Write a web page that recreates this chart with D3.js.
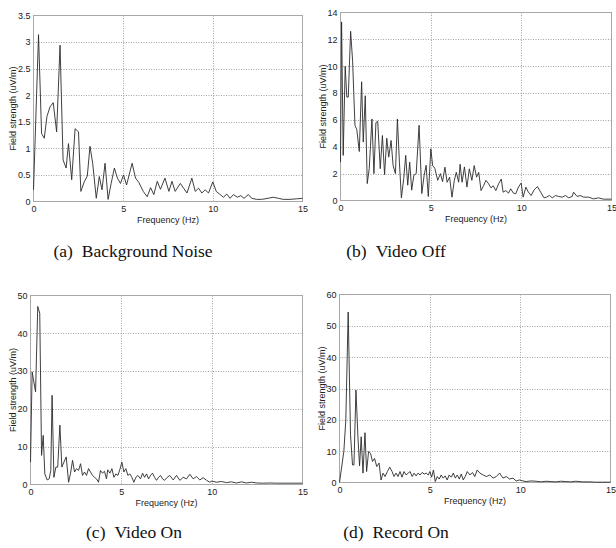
<!DOCTYPE html>
<html>
<head>
<meta charset="utf-8">
<script src="https://cdn.jsdelivr.net/npm/d3@7"></script>
<style>
  html, body { margin: 0; padding: 0; background: #fff; }
  svg { display: block; }
</style>
</head>
<body>
<svg id="chart" width="616" height="548"></svg>
<script>
// ---------- DATA ----------
const xTicks = [0, 5, 10, 15];
const xLabel = "Frequency (Hz)";
const yLabel = "Field strength (uV/m)";

// (a) Background Noise
const freqA = [0,0.28,0.45,0.6,0.75,0.92,1.1,1.29,1.48,1.65,1.82,1.95,2.13,2.32,2.51,2.64,2.83,3.0,3.15,3.3,3.5,3.67,3.82,3.99,4.16,4.33,4.51,4.68,4.85,5.02,5.19,5.5,5.69,5.87,6.12,6.34,6.53,6.71,6.9,7.08,7.33,7.55,7.72,7.9,8.19,8.37,8.56,8.83,9.02,9.2,9.39,9.57,9.76,10.0,10.19,10.41,10.59,10.78,10.96,11.15,11.37,11.56,11.74,11.98,12.17,12.44,12.72,12.91,13.37,13.65,13.93,14.3,14.67,15.0];
const valA  = [0.22,3.14,1.28,1.19,1.6,1.78,1.86,1.31,2.94,0.78,0.63,1.09,0.41,1.37,1.31,0.19,0.37,0.48,1.04,0.72,0.06,0.47,0.22,0.72,0.04,0.34,0.63,0.44,0.34,0.5,0.31,0.72,0.44,0.36,0.19,0.09,0.26,0.13,0.38,0.23,0.44,0.19,0.38,0.19,0.34,0.25,0.16,0.44,0.19,0.25,0.16,0.22,0.16,0.37,0.19,0.13,0.08,0.14,0.06,0.13,0.08,0.11,0.06,0.13,0.06,0.04,0.04,0.05,0.08,0.06,0.04,0.04,0.05,0.06];
const yTicksA = [0, 0.5, 1, 1.5, 2, 2.5, 3, 3.5];

// (b) Video Off
const freqB = [0,0.06,0.15,0.26,0.35,0.43,0.56,0.67,0.8,0.9,1.04,1.17,1.26,1.37,1.48,1.59,1.74,1.85,1.96,2.06,2.2,2.32,2.44,2.56,2.67,2.8,2.91,3.04,3.15,3.26,3.37,3.5,3.61,3.72,3.83,3.94,4.06,4.19,4.35,4.5,4.63,4.74,4.86,5.0,5.1,5.22,5.38,5.53,5.65,5.78,5.9,6.04,6.17,6.3,6.41,6.54,6.62,6.73,6.86,7.0,7.13,7.27,7.4,7.53,7.65,7.78,7.92,8.05,8.2,8.33,8.45,8.6,8.75,8.9,9.0,9.15,9.3,9.42,9.57,9.7,9.85,10.0,10.11,10.26,10.4,10.55,10.72,10.9,11.08,11.26,11.4,11.57,11.72,11.9,12.08,12.27,12.45,12.63,12.82,12.9,13.1,13.27,13.45,13.73,14.0,14.28,14.55,15.0];
const valB  = [2.86,13.3,3.36,10.0,7.7,7.7,12.6,10.4,5.6,5.3,3.65,8.84,4.35,7.8,1.26,2.37,6.07,2.0,5.8,5.9,2.37,4.84,1.93,4.64,3.23,4.47,2.62,2.0,6.07,2.86,0.2,1.63,3.36,1.14,2.86,0.77,1.88,2.0,5.6,0.52,1.88,2.62,0.3,3.85,2.6,2.4,1.5,2.0,1.4,2.48,1.36,1.74,0.25,1.5,2.1,1.36,2.7,1.36,2.5,1.0,2.36,1.5,2.6,1.74,2.1,0.74,1.1,1.5,1.24,0.94,1.1,0.74,1.24,1.6,0.62,0.74,0.55,0.87,0.55,0.5,1.0,1.3,0.25,1.0,0.62,0.37,0.8,1.04,0.62,0.2,0.25,0.37,0.2,0.37,0.3,0.25,0.37,0.2,0.3,0.62,0.3,0.37,0.25,0.25,0.12,0.2,0.1,0.1];
const yTicksB = [0, 2, 4, 6, 8, 10, 12, 14];

// (c) Video On
const freqC = [0,0.09,0.28,0.4,0.51,0.61,0.7,0.79,0.92,1.03,1.12,1.19,1.29,1.4,1.5,1.62,1.73,1.84,1.97,2.1,2.21,2.32,2.43,2.54,2.65,2.76,2.87,2.98,3.09,3.2,3.31,3.42,3.53,3.64,3.75,3.86,3.97,4.08,4.19,4.26,4.38,4.49,4.6,4.71,4.82,4.93,5.04,5.15,5.26,5.37,5.48,5.59,5.7,5.81,5.92,6.07,6.18,6.29,6.4,6.51,6.62,6.73,6.84,6.95,7.06,7.17,7.28,7.39,7.54,7.68,7.87,8.05,8.24,8.42,8.6,8.79,8.97,9.15,9.34,9.52,9.71,9.89,10.0,10.26,10.53,10.81,11.08,11.36,11.64,11.91,12.19,12.46,12.83,13.2,13.57,13.93,14.49,15.0];
const valC  = [5.9,29.8,24.5,47.1,45.3,7.7,13.0,2.8,1.2,1.5,3.7,23.6,1.9,4.6,4.6,15.7,4.6,5.9,7.3,0.6,3.0,6.4,3.3,4.2,3.7,5.5,2.4,3.3,2.4,4.2,3.3,2.4,1.9,1.5,0.6,3.7,3.0,3.5,1.5,3.9,3.0,4.2,1.9,2.8,2.4,4.0,5.9,3.3,4.2,2.4,2.8,1.9,0.6,1.9,2.4,1.5,3.0,1.9,2.8,1.5,2.4,3.0,1.9,1.1,1.9,2.4,1.5,1.1,1.9,2.4,1.2,2.4,1.1,1.9,1.5,2.7,1.5,2.1,1.2,1.8,1.1,0.6,0.9,0.6,0.8,0.5,0.7,0.4,0.7,0.4,0.6,0.4,0.35,0.4,0.35,0.35,0.35,0.35];
const yTicksC = [0, 10, 20, 30, 40, 50];

// (d) Record On
const freqD = [0,0.24,0.35,0.48,0.61,0.72,0.8,0.91,1.02,1.11,1.2,1.3,1.41,1.5,1.61,1.72,1.83,1.94,2.06,2.19,2.3,2.41,2.52,2.65,2.78,2.91,3.02,3.13,3.24,3.35,3.46,3.57,3.69,3.8,3.91,4.02,4.13,4.24,4.35,4.46,4.57,4.69,4.8,4.91,5.0,5.1,5.2,5.3,5.41,5.52,5.63,5.74,5.85,5.96,6.07,6.19,6.3,6.41,6.52,6.63,6.74,6.85,6.96,7.07,7.22,7.36,7.49,7.62,7.77,7.95,8.13,8.32,8.5,8.68,8.86,9.05,9.23,9.41,9.6,9.78,9.96,10.15,10.33,10.6,10.88,11.15,11.43,11.7,11.98,12.25,12.53,12.8,13.08,13.44,13.81,14.18,14.54,15.0];
const valD  = [0,9.9,19.9,54.4,15.2,5.6,5.6,29.5,14.6,5.3,14.6,3.0,15.9,3.5,9.9,9.3,6.7,7.7,5.1,6.2,0.8,3.0,1.9,3.5,4.9,3.5,1.9,3.0,1.9,3.5,1.7,3.5,2.4,3.0,3.5,1.9,3.0,2.1,3.0,2.4,3.2,2.7,3.0,2.4,3.5,1.7,4.0,0.3,1.9,1.1,2.4,1.4,2.1,0.8,2.4,1.7,3.0,1.4,2.4,1.1,2.7,0.8,1.9,3.5,2.4,3.2,1.9,4.0,3.0,2.4,1.9,2.4,1.4,1.9,3.0,1.4,1.9,1.1,1.4,0.5,0.8,0.5,0.3,0.5,0.4,0.2,0.4,0.3,0.2,0.4,0.3,0.2,0.4,0.2,0.2,0.1,0.1,0.1];
const yTicksD = [0, 10, 20, 30, 40, 50, 60];

const captions = [["(a)", "Background Noise"], ["(b)", "Video Off"], ["(c)", "Video On"], ["(d)", "Record On"]];

// ---------- DRAW ----------
const svg = d3.select("#chart");
const sans = "'Liberation Sans', Arial, sans-serif";
const serif = "'Liberation Serif', 'Times New Roman', serif";

const panels = [
  { f: freqA, v: valA, yt: yTicksA, box: [33.5, 302.5, 15.5, 201.5], ylx: 13, cap: captions[0], capX: 133, capY: 257 },
  { f: freqB, v: valB, yt: yTicksB, box: [340.5, 611.5, 12.5, 200.5], ylx: 323, cap: captions[1], capX: 396, capY: 257 },
  { f: freqC, v: valC, yt: yTicksC, box: [30.5, 302.5, 295.5, 484.5], ylx: 13, cap: captions[2], capX: 134, capY: 537.5 },
  { f: freqD, v: valD, yt: yTicksD, box: [339.5, 610.5, 294.5, 482.5], ylx: 322, cap: captions[3], capX: 396, capY: 537.5 }
];

panels.forEach(p => {
  const [x0, x1, y0, y1] = p.box;
  const x = d3.scaleLinear().domain([0, 15]).range([x0, x1]);
  const y = d3.scaleLinear().domain([0, d3.max(p.yt)]).range([y1, y0]);
  const g = svg.append("g");

  // grid (dotted)
  g.append("g").selectAll("line").data(xTicks.filter(t => t > 0 && t < 15)).join("line")
    .attr("x1", d => Math.round(x(d)) + 0.5).attr("x2", d => Math.round(x(d)) + 0.5)
    .attr("y1", y0).attr("y2", y1)
    .attr("stroke", "#8c8c8c").attr("stroke-width", 0.8).attr("stroke-dasharray", "1,1.5");
  g.append("g").selectAll("line").data(p.yt.filter((t, i) => i > 0 && i < p.yt.length - 1)).join("line")
    .attr("x1", x0).attr("x2", x1)
    .attr("y1", d => Math.round(y(d)) + 0.5).attr("y2", d => Math.round(y(d)) + 0.5)
    .attr("stroke", "#8c8c8c").attr("stroke-width", 0.8).attr("stroke-dasharray", "1,1.5");

  // frame
  g.append("rect").attr("x", x0).attr("y", y0).attr("width", x1 - x0).attr("height", y1 - y0)
    .attr("fill", "none").attr("stroke", "#a8a8a8").attr("stroke-width", 1);

  // axes (labels only; frame drawn above)
  const ax = g.append("g").attr("transform", `translate(0,${y1})`)
    .call(d3.axisBottom(x).tickValues(xTicks).tickFormat(d => String(d)).tickSize(0).tickPadding(4));
  ax.select(".domain").remove();
  ax.selectAll("text").attr("font-family", sans).attr("font-size", 9).attr("fill", "#222");

  const ay = g.append("g").attr("transform", `translate(${x0},0)`)
    .call(d3.axisLeft(y).tickValues(p.yt).tickFormat(d => String(d)).tickSize(0).tickPadding(3));
  ay.select(".domain").remove();
  ay.selectAll("text").attr("font-family", sans).attr("font-size", 9).attr("fill", "#222");

  // axis titles
  g.append("text").attr("x", (x0 + x1) / 2).attr("y", y1 + 21)
    .attr("text-anchor", "middle").attr("font-family", sans).attr("font-size", 9).attr("fill", "#222")
    .text(xLabel);
  g.append("text").attr("transform", `translate(${p.ylx},${(y0 + y1) / 2}) rotate(-90)`)
    .attr("text-anchor", "middle").attr("dy", "0.35em").attr("font-family", sans).attr("font-size", 9).attr("fill", "#222")
    .text(yLabel);

  // data line
  const data = p.f.map((f, i) => [f, p.v[i]]);
  g.append("path").datum(data)
    .attr("fill", "none").attr("stroke", "#2a2a2a").attr("stroke-width", 0.9).attr("stroke-linejoin", "round")
    .attr("d", d3.line().x(d => x(d[0])).y(d => y(d[1])));

  // caption
  const t = svg.append("text").attr("x", p.capX).attr("y", p.capY)
    .attr("text-anchor", "middle").attr("font-family", serif).attr("font-size", 17.5).attr("fill", "#111");
  t.append("tspan").text(p.cap[0]);
  t.append("tspan").attr("dx", 9).text(p.cap[1]);
});
</script>
</body>
</html>
